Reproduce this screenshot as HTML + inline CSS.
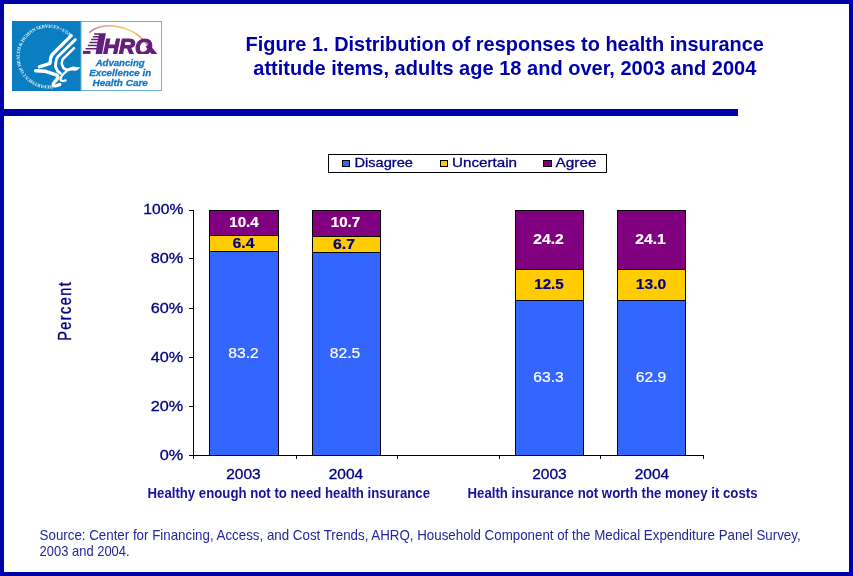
<!DOCTYPE html>
<html lang="en">
<head>
<meta charset="utf-8">
<title>Figure 1. Distribution of responses to health insurance attitude items</title>
<style>
html,body{margin:0;padding:0;background:#fff;}
body{width:853px;height:576px;overflow:hidden;position:relative;font-family:"Liberation Sans",Arial,sans-serif;}
svg{position:absolute;left:0;top:0;display:block;}
text{font-family:"Liberation Sans",Arial,sans-serif;}
.ttl{font-weight:bold;font-size:21px;fill:#0000aa;text-anchor:middle;}
.ax{font-size:14.5px;fill:#000080;stroke:#000080;stroke-width:0.3px;}
.dl{font-size:14.5px;font-weight:bold;text-anchor:middle;stroke-width:0.2px;}
.cat{font-size:14.2px;font-weight:bold;fill:#14149a;}
.src{font-size:14.5px;fill:#26269c;}
</style>
</head>
<body>
<svg width="853" height="576" viewBox="0 0 853 576">
<!-- frame -->
<rect x="0" y="0" width="853" height="576" fill="#0000a8"/>
<rect x="4" y="4" width="845" height="568" fill="#ffffff"/>
<rect x="4" y="109" width="734" height="7" fill="#0000a8"/>

<!-- LOGO -->
<g id="logo">
<defs>
<linearGradient id="arcg" gradientUnits="userSpaceOnUse" x1="89" y1="0" x2="149" y2="0">
<stop offset="0" stop-color="#a878a8"/>
<stop offset="0.25" stop-color="#e8a090"/>
<stop offset="0.5" stop-color="#f0c070"/>
<stop offset="0.7" stop-color="#f0d868"/>
<stop offset="0.85" stop-color="#f0a080"/>
<stop offset="1" stop-color="#e070a0"/>
</linearGradient>
<path id="ring" d="M52.6,85.2 A28.9,28.9 0 1 1 68.8,36"/>
<clipPath id="legclip"><polygon points="99.3,33.2 105.9,33.2 102,53.9 95.5,53.9"/></clipPath>
<clipPath id="tclip"><rect x="80" y="28" width="80" height="26"/></clipPath>
</defs>
<!-- HHS square -->
<rect x="12" y="21" width="69" height="70" fill="#0b7dc1"/>
<text style="font-family:'Liberation Serif',serif" font-weight="bold" font-size="4.7" fill="#eaf5fb"><textPath href="#ring" textLength="117.5" lengthAdjust="spacing">DEPARTMENT OF HEALTH &amp; HUMAN SERVICES • USA</textPath></text>
<!-- eagle -->
<g fill="none" stroke="#fff" stroke-linecap="round" stroke-linejoin="round">
<path d="M71.2,35.6 L52.8,54 C50.8,56 50.5,58 50.3,61 L50,63.4 L39.4,66.9" stroke-width="3.3"/>
<path d="M75.3,39.6 L57.8,56.8 C56.2,58.4 56,60 55.9,62.5 L55.4,66.4 L57.8,71.3 L60.5,73.4" stroke-width="2.9"/>
<path d="M74,48.2 L62.9,59 C61.9,60 61.8,62 61.7,64 L63.6,68.1 L66,69.6" stroke-width="2.5"/>
<path d="M35.6,70.7 L45,71.2 L56,74.8 C58.8,76 58.4,78 56.4,80 C54,82.3 52.4,84.2 53.6,85.5 C55,86.2 58,85.5 59.8,84.6" stroke-width="3.4"/>
<path d="M66.2,71.6 C63,74 60.7,77 60.5,79.3 C60.7,81.2 63,81.4 65.6,80.4" stroke-width="2.3"/>
</g>
<path d="M64,68.2 C68,69.4 70,67 73,66.4 C76,66.2 78,68 80.8,67 C78,69.8 76.5,71.3 74.5,70.7 C72,69.9 69,70.9 66,71.8 Z" fill="#fff"/>
<!-- AHRQ box -->
<rect x="81" y="21.5" width="80.5" height="69" fill="#fff" stroke="#6fb2dc" stroke-width="1"/>
<path d="M89.8,32.3 C103,21 133,24.5 148,45.6" fill="none" stroke="url(#arcg)" stroke-width="1.5" stroke-linecap="round"/>
<polygon points="99.3,33.2 105.9,33.2 102,53.9 95.5,53.9" fill="#63207a"/>
<text clip-path="url(#legclip)" x="84.5" y="53.6" font-weight="bold" font-style="italic" font-size="28" fill="#63207a">A</text>
<g clip-path="url(#tclip)">
<text x="103.2" y="53.6" font-weight="bold" font-style="italic" font-size="21.5" fill="#63207a" stroke="#63207a" stroke-width="1.1" textLength="49" lengthAdjust="spacingAndGlyphs">HRQ</text>
</g>
<path d="M145.5,46.5 L149.5,44.5 L157.4,53.9 L151.5,54 Z" fill="#63207a"/>
<g stroke="#63207a" stroke-width="1.5" fill="none">
<path d="M94.1,33.95H100 M92.9,36.7H99.5 M91.2,39.6H99 M89.5,42.5H98.5 M87.8,45.6H98 M85.6,48.7H97.5"/>
<path d="M82.9,52.4H90.5" stroke-width="3"/>
</g>
<g font-family="'Liberation Sans',Arial,sans-serif" font-weight="bold" font-style="italic" font-size="9.6" fill="#1278c4" stroke="#1278c4" stroke-width="0.3" text-anchor="middle">
<text x="120.2" y="66.3" textLength="49" lengthAdjust="spacingAndGlyphs">Advancing</text>
<text x="120.2" y="76" textLength="62" lengthAdjust="spacingAndGlyphs">Excellence in</text>
<text x="120.2" y="85.7" textLength="55.5" lengthAdjust="spacingAndGlyphs">Health Care</text>
</g>
</g>


<!-- title -->
<text class="ttl" x="504.7" y="50.9" textLength="518.3" lengthAdjust="spacingAndGlyphs">Figure 1. Distribution of responses to health insurance</text>
<text class="ttl" x="504.8" y="74.9" textLength="503" lengthAdjust="spacingAndGlyphs">attitude items, adults age 18 and over, 2003 and 2004</text>

<!-- legend -->
<rect x="328.5" y="154.5" width="278" height="18" fill="#fff" stroke="#000" stroke-width="1"/>
<rect x="342.5" y="160.5" width="7" height="6" fill="#3366ff" stroke="#000" stroke-width="1"/>
<rect x="440.5" y="160.5" width="7" height="6" fill="#ffcc00" stroke="#000" stroke-width="1"/>
<rect x="543.5" y="160.5" width="8" height="6" fill="#800080" stroke="#000" stroke-width="1"/>
<g class="ax" style="font-size:13.1px">
<text x="354.5" y="166.7" textLength="58.5" lengthAdjust="spacingAndGlyphs">Disagree</text>
<text x="452" y="166.7" textLength="65" lengthAdjust="spacingAndGlyphs">Uncertain</text>
<text x="555.5" y="166.7" textLength="41" lengthAdjust="spacingAndGlyphs">Agree</text>
</g>

<!-- bars -->
<g stroke="#000" stroke-width="1">
<rect x="209.5" y="210.5" width="69" height="245" fill="#3366ff"/>
<rect x="209.5" y="210.5" width="69" height="41" fill="#ffcc00"/>
<rect x="209.5" y="210.5" width="69" height="25" fill="#800080"/>

<rect x="312.5" y="210.5" width="68" height="245" fill="#3366ff"/>
<rect x="312.5" y="210.5" width="68" height="42" fill="#ffcc00"/>
<rect x="312.5" y="210.5" width="68" height="26" fill="#800080"/>

<rect x="515.5" y="210.5" width="68" height="245" fill="#3366ff"/>
<rect x="515.5" y="210.5" width="68" height="90" fill="#ffcc00"/>
<rect x="515.5" y="210.5" width="68" height="59" fill="#800080"/>

<rect x="617.5" y="210.5" width="68" height="245" fill="#3366ff"/>
<rect x="617.5" y="210.5" width="68" height="90" fill="#ffcc00"/>
<rect x="617.5" y="210.5" width="68" height="59" fill="#800080"/>
</g>

<!-- axes -->
<g stroke="#000" stroke-width="1" fill="none">
<path d="M193.5 210 V459"/>
<path d="M189 210.5 H193 M189 258.5 H193 M189 308.5 H193 M189 357.5 H193 M189 406.5 H193 M189 455.5 H703.5"/>
<path d="M296.5 455 V459 M397.5 455 V459 M499.5 455 V459 M600.5 455 V459 M703.5 455 V459"/>
</g>

<!-- y labels -->
<g class="ax" text-anchor="end">
<text x="183.3" y="213.8" textLength="40" lengthAdjust="spacingAndGlyphs">100%</text>
<text x="183.3" y="262.8" textLength="32.5" lengthAdjust="spacingAndGlyphs">80%</text>
<text x="183.3" y="312.8" textLength="32.5" lengthAdjust="spacingAndGlyphs">60%</text>
<text x="183.3" y="361.8" textLength="32.5" lengthAdjust="spacingAndGlyphs">40%</text>
<text x="183.3" y="410.8" textLength="32.5" lengthAdjust="spacingAndGlyphs">20%</text>
<text x="183.3" y="459.8" textLength="23.5" lengthAdjust="spacingAndGlyphs">0%</text>
</g>
<text class="ax" transform="translate(71.2 340.8) rotate(-90) scale(1 1.22)" textLength="58.5" lengthAdjust="spacing">Percent</text>

<!-- data labels -->
<g class="dl" fill="#fff" stroke="#fff">
<text x="244" y="226.8" textLength="29.5" lengthAdjust="spacingAndGlyphs">10.4</text>
<text x="345.5" y="226.8" textLength="29.5" lengthAdjust="spacingAndGlyphs">10.7</text>
<text x="548.5" y="244" textLength="30.5" lengthAdjust="spacingAndGlyphs">24.2</text>
<text x="650.5" y="244" textLength="30.5" lengthAdjust="spacingAndGlyphs">24.1</text>
</g>
<g class="dl" fill="#000080" stroke="#000080">
<text x="243.5" y="247.8" textLength="22" lengthAdjust="spacingAndGlyphs">6.4</text>
<text x="344" y="248.5" textLength="22" lengthAdjust="spacingAndGlyphs">6.7</text>
<text x="549" y="289" textLength="29.5" lengthAdjust="spacingAndGlyphs">12.5</text>
<text x="651" y="289" textLength="30.5" lengthAdjust="spacingAndGlyphs">13.0</text>
</g>
<g class="dl" fill="#fff" stroke="#fff" style="font-weight:normal">
<text x="243.5" y="357.8" textLength="30.5" lengthAdjust="spacingAndGlyphs">83.2</text>
<text x="345" y="357.8" textLength="30.5" lengthAdjust="spacingAndGlyphs">82.5</text>
<text x="548.5" y="382" textLength="30.5" lengthAdjust="spacingAndGlyphs">63.3</text>
<text x="651" y="382" textLength="30.5" lengthAdjust="spacingAndGlyphs">62.9</text>
</g>

<!-- x labels -->
<g class="ax" text-anchor="middle">
<text x="243.5" y="478.8" textLength="34.5" lengthAdjust="spacingAndGlyphs">2003</text>
<text x="346" y="478.8" textLength="34.5" lengthAdjust="spacingAndGlyphs">2004</text>
<text x="549.5" y="478.8" textLength="34.5" lengthAdjust="spacingAndGlyphs">2003</text>
<text x="652" y="478.8" textLength="34.5" lengthAdjust="spacingAndGlyphs">2004</text>
</g>
<text class="cat" x="147.5" y="497.8" textLength="282.5" lengthAdjust="spacingAndGlyphs">Healthy enough not to need health insurance</text>
<text class="cat" x="467.5" y="497.8" textLength="290" lengthAdjust="spacingAndGlyphs">Health insurance not worth the money it costs</text>

<!-- source -->
<text class="src" x="39.6" y="540.1" textLength="761" lengthAdjust="spacingAndGlyphs">Source: Center for Financing, Access, and Cost Trends, AHRQ, Household Component of the Medical Expenditure Panel Survey,</text>
<text class="src" x="39.6" y="556.1" textLength="90" lengthAdjust="spacingAndGlyphs">2003 and 2004.</text>
</svg>
</body>
</html>
